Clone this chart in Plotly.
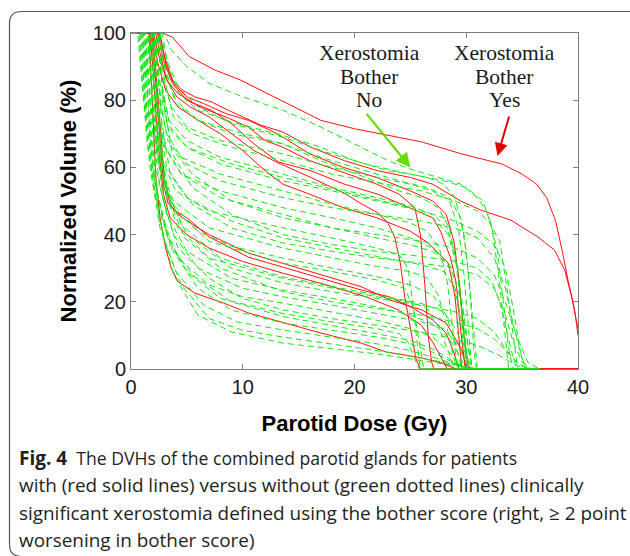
import plotly.graph_objects as go

# ---------------- data (dose in Gy, normalized volume in %) ----------------
red_dose = [
    [0, 2.8, 3.7, 5.2, 7.5, 9.8, 13.4, 17, 20, 22.4, 26, 29.6, 33.2, 35, 36.3, 37.2, 38, 38.6, 39.1, 39.7, 40],
    [0, 2.3, 2.7, 3.1, 3.7, 4.6, 5.7, 7.2, 8.7, 10.3, 11.6, 13.6, 16.1, 19.1, 22.1, 25, 27, 29.5, 31.3, 34, 36.4, 37.9, 38.8, 39.4, 39.7, 40],
    [0, 2.2, 2.6, 3.2, 4.2, 5.7, 7.2, 9, 11, 13.2, 16.1, 19.1, 22.1, 25, 27, 27.7, 28.6, 29.1, 29.5, 29.9, 30.1, 40],
    [0, 2.0, 2.5, 3.2, 4.1, 5.3, 7, 9, 11, 13.2, 16.1, 19.1, 20.5, 22.1, 23, 23.6, 24.1, 24.5, 25, 25.5, 25.9, 40],
    [0, 2.4, 2.9, 3.7, 5, 6.5, 8.5, 10.5, 12, 13.6, 16, 19, 22, 24, 25.4, 25.9, 26.3, 26.6, 26.9, 27.1, 40],
    [0, 2.5, 3.0, 3.8, 5, 6.5, 8.5, 10.5, 12.5, 13.6, 16, 19, 22, 25, 27, 28.2, 28.9, 29.4, 29.8, 30.1, 30.3, 40],
    [0, 1.9, 2.4, 3.1, 4.2, 6, 8, 10, 12, 13.6, 16, 19, 22, 25, 26.6, 28.4, 29, 29.3, 29.6, 40],
    [0, 1.8, 2.1, 2.5, 2.9, 3.3, 3.9, 5, 7, 10.5, 13.4, 17, 20.6, 23.2, 25, 27, 28.2, 28.9, 29.3, 29.4, 40],
    [0, 1.9, 2.2, 2.6, 3.0, 3.5, 4.2, 5.5, 7, 10.5, 13.6, 17, 20.6, 23.2, 26, 28.2, 29.6, 30, 30.2, 40],
    [0, 1.7, 2.0, 2.4, 2.9, 3.5, 5, 7, 10, 13.6, 17, 21, 24, 26, 27, 27.8, 28.3, 40],
    [0, 1.6, 1.9, 2.2, 2.6, 3.1, 3.6, 4.2, 5.7, 8.3, 10.5, 13.4, 17, 20.6, 22.8, 26, 27.8, 28.9, 29.1, 40],
]
red_vol = [
    [100, 100, 98.8, 93, 89, 86, 80, 74, 71.5, 70, 67.6, 64, 61, 58, 55, 51, 44, 35, 26.5, 17.6, 10],
    [100, 100, 98, 91, 86, 83, 81, 79.5, 77, 74.7, 72.6, 70.5, 66, 62, 59, 57, 55, 50, 47.3, 44.3, 39.3, 35.4, 29.5, 22, 16.7, 12],
    [100, 100, 94, 86, 82, 79, 77, 73, 67, 61.6, 59, 55, 52, 48, 45, 41, 33, 25.6, 11.6, 0.6, 0, 0],
    [100, 100, 93, 86, 81, 78, 75, 70, 65, 61.3, 57, 52.3, 49.4, 46.4, 43.4, 39.3, 31.5, 21.4, 11.6, 3, 0, 0],
    [100, 100, 92, 85, 80, 77.5, 75, 72, 68, 66, 62, 58.5, 55, 52, 48, 40, 25, 10, 2, 0, 0],
    [100, 100, 93, 85, 81, 79, 76, 74, 71, 69, 64, 60, 57, 53, 50, 46, 38, 25, 10, 2, 0, 0],
    [100, 100, 91, 83, 78, 74, 70, 65, 59, 55, 52, 48, 45, 41, 37.5, 31.5, 21.4, 10, 0, 0],
    [100, 100, 90, 71, 55, 49.4, 47.3, 45, 39.3, 33.3, 30.4, 27, 23.5, 21.4, 18.5, 14.6, 10.7, 4.8, 0.3, 0, 0],
    [100, 100, 90, 72, 56, 49, 46, 43, 40, 34.5, 31.5, 28, 24.5, 20.5, 17.6, 13.7, 5.7, 0.3, 0, 0],
    [100, 100, 88, 68, 52, 45, 40, 36, 32, 28.5, 25.5, 21.5, 17.5, 13, 8, 3, 0, 0],
    [100, 100, 80, 58, 45, 36, 30, 26, 22.6, 19.6, 16.7, 14, 10.7, 7.7, 5.1, 3.3, 1.8, 0.3, 0, 0],
]

green_dose = [
    [0, 3.0, 3.6, 5, 7, 10, 13.6, 17, 20, 23, 25, 27, 29.5, 31, 32, 32.8, 33.3, 33.8, 34.2, 36.6],
    [0, 2.6, 3.2, 4.2, 6, 9, 13.6, 17, 21, 25, 28, 30, 31.5, 32.3, 32.9, 33.4, 33.8, 36.6],
    [0, 2.4, 3, 4, 6, 9, 13.6, 17, 21, 24, 26.5, 28.5, 29.5, 30, 30.4, 30.7, 30.9, 36.6],
    [0, 2.2, 2.8, 3.6, 5, 8, 13.6, 18, 22, 25, 27, 28.5, 29.3, 29.8, 30.2, 30.5, 36.6],
    [0, 2.5, 3, 3.8, 5.5, 9, 13.6, 18, 22, 26, 29, 31, 32, 33, 33.6, 34.2, 34.6, 36.6],
    [0, 2.0, 2.6, 3.4, 5, 8, 13.6, 18, 22, 25, 27, 28.3, 29, 29.5, 29.9, 30.2, 36.6],
    [0, 2.3, 2.8, 3.5, 5, 8, 13.6, 18, 22, 26, 29, 31, 32.5, 33.5, 34.2, 34.8, 35.3, 36.6],
    [0, 1.8, 2.4, 3.2, 4.5, 8, 13.6, 18, 22, 25, 26.5, 27.6, 28.3, 28.8, 29.2, 36.6],
    [0, 2.1, 2.6, 3.3, 5, 8, 13.6, 18, 22, 26, 29, 31, 32.5, 33.5, 34.3, 35, 35.5, 36.6],
    [0, 1.6, 2.2, 3, 4.5, 8, 13.6, 18, 22, 25, 27, 28.5, 29.3, 29.8, 30.1, 36.6],
    [0, 2.4, 2.9, 3.6, 5.5, 9, 13.6, 18, 22, 26, 29, 31, 32.5, 33.5, 34.5, 35.5, 36.5],
    [0, 1.4, 2, 2.8, 4, 7, 13.6, 18, 22, 24, 24.8, 25.2, 25.6, 25.9, 36.6],
    [0, 1.9, 2.4, 3.2, 5, 9, 13.6, 18, 22, 26, 28, 29, 29.6, 30, 30.3, 36.6],
    [0, 2.2, 2.7, 3.5, 5.5, 9, 13.6, 18, 22, 26, 29, 31, 32.5, 33.5, 34.2, 35, 35.8, 36.6],
    [0, 1.2, 1.7, 2.4, 3.5, 6, 9, 13.6, 18, 22, 25, 27, 28.2, 29, 29.6, 36.6],
    [0, 1.5, 2, 2.8, 4, 7, 13.6, 18, 22, 24.5, 25.3, 25.8, 26.2, 36.6],
    [0, 1.7, 2.2, 3, 4.5, 8, 13.6, 18, 22, 26, 28, 29.2, 30, 30.5, 36.6],
    [0, 2.0, 2.5, 3.3, 5, 9, 13.6, 18, 22, 26, 29, 31, 32.5, 33.5, 34.5, 35.5, 36.6],
    [0, 1.0, 1.5, 2.2, 3.2, 5, 9, 13.6, 18, 22, 25, 27, 28.5, 29.4, 30, 36.6],
    [0, 1.3, 1.8, 2.6, 3.8, 6, 10, 13.6, 18, 22, 26, 28, 29.3, 30, 30.5, 36.6],
    [0, 0.8, 1.2, 1.8, 2.8, 4.2, 7, 10, 13.6, 18, 22, 25, 27, 28.5, 29.5, 30, 36.6],
    [0, 1.6, 2.1, 2.9, 4.2, 7, 10, 13.6, 18, 22, 26, 29, 31, 33, 34.5, 35.5, 36.6],
    [0, 0.6, 1.0, 1.5, 2.3, 3.5, 5.5, 9, 13.6, 18, 22, 25, 27, 28.5, 30, 36.6],
    [0, 1.1, 1.6, 2.4, 3.6, 6, 9, 13.6, 18, 22, 25, 27, 28.5, 30, 30.6, 36.6],
    [0, 0.7, 1.1, 1.7, 2.6, 4, 6.5, 9.5, 13.6, 18, 22, 25, 27.5, 29.5, 31, 36.6],
    [0, 0.9, 1.3, 2, 3, 4.5, 7, 10, 13.6, 18, 22, 25, 28, 30, 31, 36.6],
    [0, 1.2, 1.7, 2.5, 3.8, 6, 9, 13.6, 18, 22, 25, 28, 30, 31, 36.6],
    [0, 2.6, 3.1, 4, 6, 9, 13.6, 17, 21, 24, 26, 27.5, 28.5, 29.2, 29.7, 30.1, 30.4, 36.6],
    [0, 2.0, 2.5, 3.3, 5, 9, 13.6, 18, 22, 25, 27, 28.4, 29.2, 29.8, 30.3, 30.6, 36.6],
    [0, 1.8, 2.3, 3.1, 4.5, 8, 13.6, 18, 22, 25, 27, 28.5, 29.4, 30, 30.5, 36.6],
    [0, 1.3, 1.8, 2.6, 3.8, 7, 13.6, 18, 22, 25, 26.5, 27.5, 28.3, 28.9, 29.2, 36.6],
    [0, 2.4, 2.9, 3.7, 5.5, 9, 13.6, 18, 22, 26, 29, 31, 32.3, 33, 33.7, 34.3, 34.8, 36.6],
    [0, 1.5, 2, 2.8, 4.2, 7, 13.6, 18, 22, 25, 26.5, 27.6, 28.4, 29, 36.6],
    [0, 1.9, 2.4, 3.2, 4.8, 8, 13.6, 18, 22, 26, 29, 31, 32.5, 33.7, 34.7, 35.6, 36.6],
    [0, 1.0, 1.4, 2.1, 3.2, 5, 8, 13.6, 18, 22, 24, 24.8, 25.4, 25.8, 36.6],
    [0, 2.8, 3.3, 4.3, 6, 9, 13.6, 17, 20, 23, 25, 26.5, 28, 29, 29.8, 30.3, 30.7, 31, 36.6],
]
green_vol = [
    [100, 100, 95, 90, 85, 81, 77, 72, 67, 62, 59.5, 57.5, 55, 51, 46, 35, 20, 6, 0, 0],
    [100, 100, 92, 84, 78, 73, 69, 65, 61, 58, 56, 54, 50, 42, 28, 12, 0, 0],
    [100, 100, 90, 80, 74, 70, 67, 63, 59, 56, 54, 51, 45, 35, 20, 5, 0, 0],
    [100, 100, 88, 78, 72, 68, 64, 60, 57, 55, 53, 50, 42, 28, 12, 0, 0],
    [100, 100, 86, 75, 70, 66, 62, 58, 55.5, 53, 50, 47, 44, 38, 25, 10, 0, 0],
    [100, 100, 85, 74, 68, 63, 58, 54, 51, 48.5, 46, 42, 34, 20, 6, 0, 0],
    [100, 100, 84, 72, 66, 61, 56, 53, 50, 47, 44, 41, 37, 30, 18, 6, 0, 0],
    [100, 100, 82, 70, 63, 58, 53, 49, 46, 43.5, 41, 36, 26, 12, 0, 0],
    [100, 100, 80, 68, 61, 56, 51, 48, 46, 44, 42, 39, 33, 24, 12, 3, 0, 0],
    [100, 100, 80, 66, 58, 53, 48, 45, 42, 39, 36, 30, 18, 6, 0, 0],
    [100, 100, 80, 66, 58, 50, 45, 42, 40, 38, 36, 33, 28, 20, 10, 2, 0],
    [100, 100, 78, 62, 53, 47, 42, 39, 36, 34, 30, 20, 8, 0, 0],
    [100, 100, 76, 60, 51, 44, 39, 36, 33.5, 31, 29, 24, 14, 5, 0, 0],
    [100, 100, 75, 58, 49, 42, 37.5, 35, 33, 31.5, 30, 28, 24, 16, 8, 2, 0, 0],
    [100, 100, 80, 62, 50, 41, 36.5, 33, 30, 27.5, 25, 22, 16, 8, 0, 0],
    [100, 100, 76, 58, 47, 38, 31.5, 29, 26.5, 24, 18, 8, 0, 0],
    [100, 100, 74, 55, 43, 33, 27.4, 24.5, 22, 19.5, 17, 11, 4, 0, 0],
    [100, 100, 72, 52, 40, 30, 25.6, 23, 21, 19, 17, 15, 11, 6, 2, 0, 0],
    [100, 100, 80, 60, 46, 35, 27, 23.5, 21, 18.5, 16, 13.5, 9, 4, 0, 0],
    [100, 100, 74, 54, 40, 30, 24, 21.5, 19, 16.5, 14, 12, 7, 2, 0, 0],
    [100, 100, 82, 62, 45, 33, 25, 21.5, 19.6, 17, 14.5, 12, 9.5, 5, 1, 0, 0],
    [100, 100, 72, 50, 36, 27, 21, 17.6, 15, 13, 11, 9, 7, 4, 1, 0, 0],
    [100, 100, 85, 66, 50, 37, 28, 20, 15.6, 13, 10.5, 8.5, 6, 3, 0, 0],
    [100, 100, 75, 52, 36, 24, 17.5, 13.7, 11.5, 9.5, 7.5, 5, 2.5, 0.5, 0, 0],
    [100, 100, 82, 60, 42, 29, 19, 14, 11.6, 9.5, 7.5, 5.5, 3, 1, 0, 0],
    [100, 100, 78, 55, 38, 25, 15, 11.5, 9.5, 7.5, 5.5, 3.8, 2, 0.5, 0, 0],
    [100, 100, 70, 45, 28, 16, 11, 7.7, 6, 4.5, 3, 1.5, 0.5, 0, 0],
    [100, 100, 88, 79, 74, 71, 67, 62, 57, 53, 51, 48, 42, 30, 15, 3, 0, 0],
    [100, 100, 84, 72, 66, 61, 57, 53.5, 50.5, 48, 45, 40, 30, 16, 4, 0, 0],
    [100, 100, 80, 66, 58, 51, 46, 42, 39, 37, 35, 31, 22, 10, 0, 0],
    [100, 100, 78, 60, 50, 42, 36, 33, 30.5, 29, 27, 22, 12, 3, 0, 0],
    [100, 100, 80, 64, 54, 46, 40, 37, 35, 33.5, 32, 30, 26, 20, 10, 2, 0, 0],
    [100, 100, 74, 55, 42, 33, 27, 24, 21.5, 20, 18, 12, 5, 0, 0],
    [100, 100, 72, 52, 39, 30, 23, 20, 18, 16, 14, 12, 9, 5, 1.5, 0, 0],
    [100, 100, 78, 56, 40, 29, 21, 16.5, 14, 12, 10.5, 8, 3, 0, 0],
    [100, 100, 90, 82, 77, 73.5, 69.5, 66, 62, 59, 58, 57, 55, 51, 40, 25, 10, 0, 0],
]

x_ticks = [0, 10, 20, 30, 40]
y_ticks = [0, 20, 40, 60, 80, 100]

label_no = ["Xerostomia", "Bother", "No"]
label_yes = ["Xerostomia", "Bother", "Yes"]
caption = [
    "with (red solid lines) versus without (green dotted lines) clinically",
    "significant xerostomia defined using the bother score (right, ≥ 2 point",
    "worsening in bother score)",
]

# ---------------- layout geometry (pixels) ----------------
W, H = 630, 556
L, R, T, B = 131, 52, 33, 187
PW, PH = W - L - R, H - T - B


def px(xp):
    return (xp - L) / PW


def py(yp):
    return (H - B - yp) / PH


fig = go.Figure()

for d, v in zip(red_dose, red_vol):
    fig.add_trace(go.Scatter(x=d, y=v, mode="lines", showlegend=False,
                             line=dict(color="#ff1010", width=1), hoverinfo="skip"))
for d, v in zip(green_dose, green_vol):
    fig.add_trace(go.Scatter(x=d, y=v, mode="lines", showlegend=False,
                             line=dict(color="#10e610", width=1, dash="6px,4px"),
                             hoverinfo="skip"))

axis_common = dict(showline=True, mirror="ticks", linecolor="#7f7f7f", linewidth=1,
                   ticks="inside", ticklen=5, tickcolor="#7f7f7f", showgrid=False,
                   zeroline=False, tickfont=dict(family="Liberation Sans, Arial", size=20, color="#1a1a1a"))

fig.update_xaxes(range=[0, 40], tickvals=x_ticks, **axis_common,
                 title=dict(text="<b>Parotid Dose (Gy)</b>", standoff=18,
                            font=dict(family="Liberation Sans, Arial", size=22, color="#000")))
fig.update_yaxes(range=[0, 100], tickvals=y_ticks, **axis_common,
                 title=dict(text="<b>Normalized Volume (%)</b>", standoff=9,
                            font=dict(family="Liberation Sans, Arial", size=22, color="#000")))

ann_font = dict(family="Liberation Serif, Times New Roman", size=21.5, color="#1a1a1a")
for i, (a, b) in enumerate(zip(label_no, label_yes)):
    yy = py(53 + 23.5 * i)
    fig.add_annotation(x=px(369), y=yy, xref="paper", yref="paper", xanchor="center",
                       yanchor="middle", text=a, showarrow=False, font=ann_font)
    fig.add_annotation(x=px(504), y=yy, xref="paper", yref="paper", xanchor="center",
                       yanchor="middle", text=b, showarrow=False, font=ann_font)

# arrows
fig.add_annotation(x=25.0, y=60.0, ax=-45, ay=-55, text="", showarrow=True,
                   arrowhead=2, arrowsize=1.3, arrowwidth=2.2, arrowcolor="#66dd00")
fig.add_annotation(x=32.8, y=63.4, ax=12, ay=-41, text="", showarrow=True,
                   arrowhead=2, arrowsize=1.3, arrowwidth=2, arrowcolor="#e00000")

# caption
cap_col = "#231f20"
fig.add_annotation(x=px(17), y=py(458), xref="paper", yref="paper", xanchor="left",
                   yanchor="middle", showarrow=False,
                   text="<b><span style='font-size:19px'>Fig. 4</span></b>  The DVHs of the combined parotid glands for patients",
                   font=dict(family="Open Sans, Noto Sans", size=17.6, color=cap_col))
for i, line in enumerate(caption):
    fig.add_annotation(x=px(17), y=py(485.3 + 27.3 * i), xref="paper", yref="paper",
                       xanchor="left", yanchor="middle", text=line, showarrow=False,
                       font=dict(family="Open Sans, Noto Sans", size=18.9, color=cap_col))

# outer rounded frame (bottom edge just outside the picture)
x0, x1 = px(9.5), px(660)
y0, y1 = py(11.5), py(556.5)
rx, ry = 12 / PW, 12 / PH
path = (f"M {x0 + rx},{y0} L {x1},{y0} L {x1},{y1} L {x0 + rx},{y1} "
        f"Q {x0},{y1} {x0},{y1 + ry} L {x0},{y0 - ry} Q {x0},{y0} {x0 + rx},{y0} Z")
fig.add_shape(type="path", path=path, xref="paper", yref="paper",
              line=dict(color="#555555", width=1.2), layer="below")

fig.update_layout(width=W, height=H, margin=dict(l=L, r=R, t=T, b=B),
                  paper_bgcolor="white", plot_bgcolor="white")

fig.write_html("out.html")
